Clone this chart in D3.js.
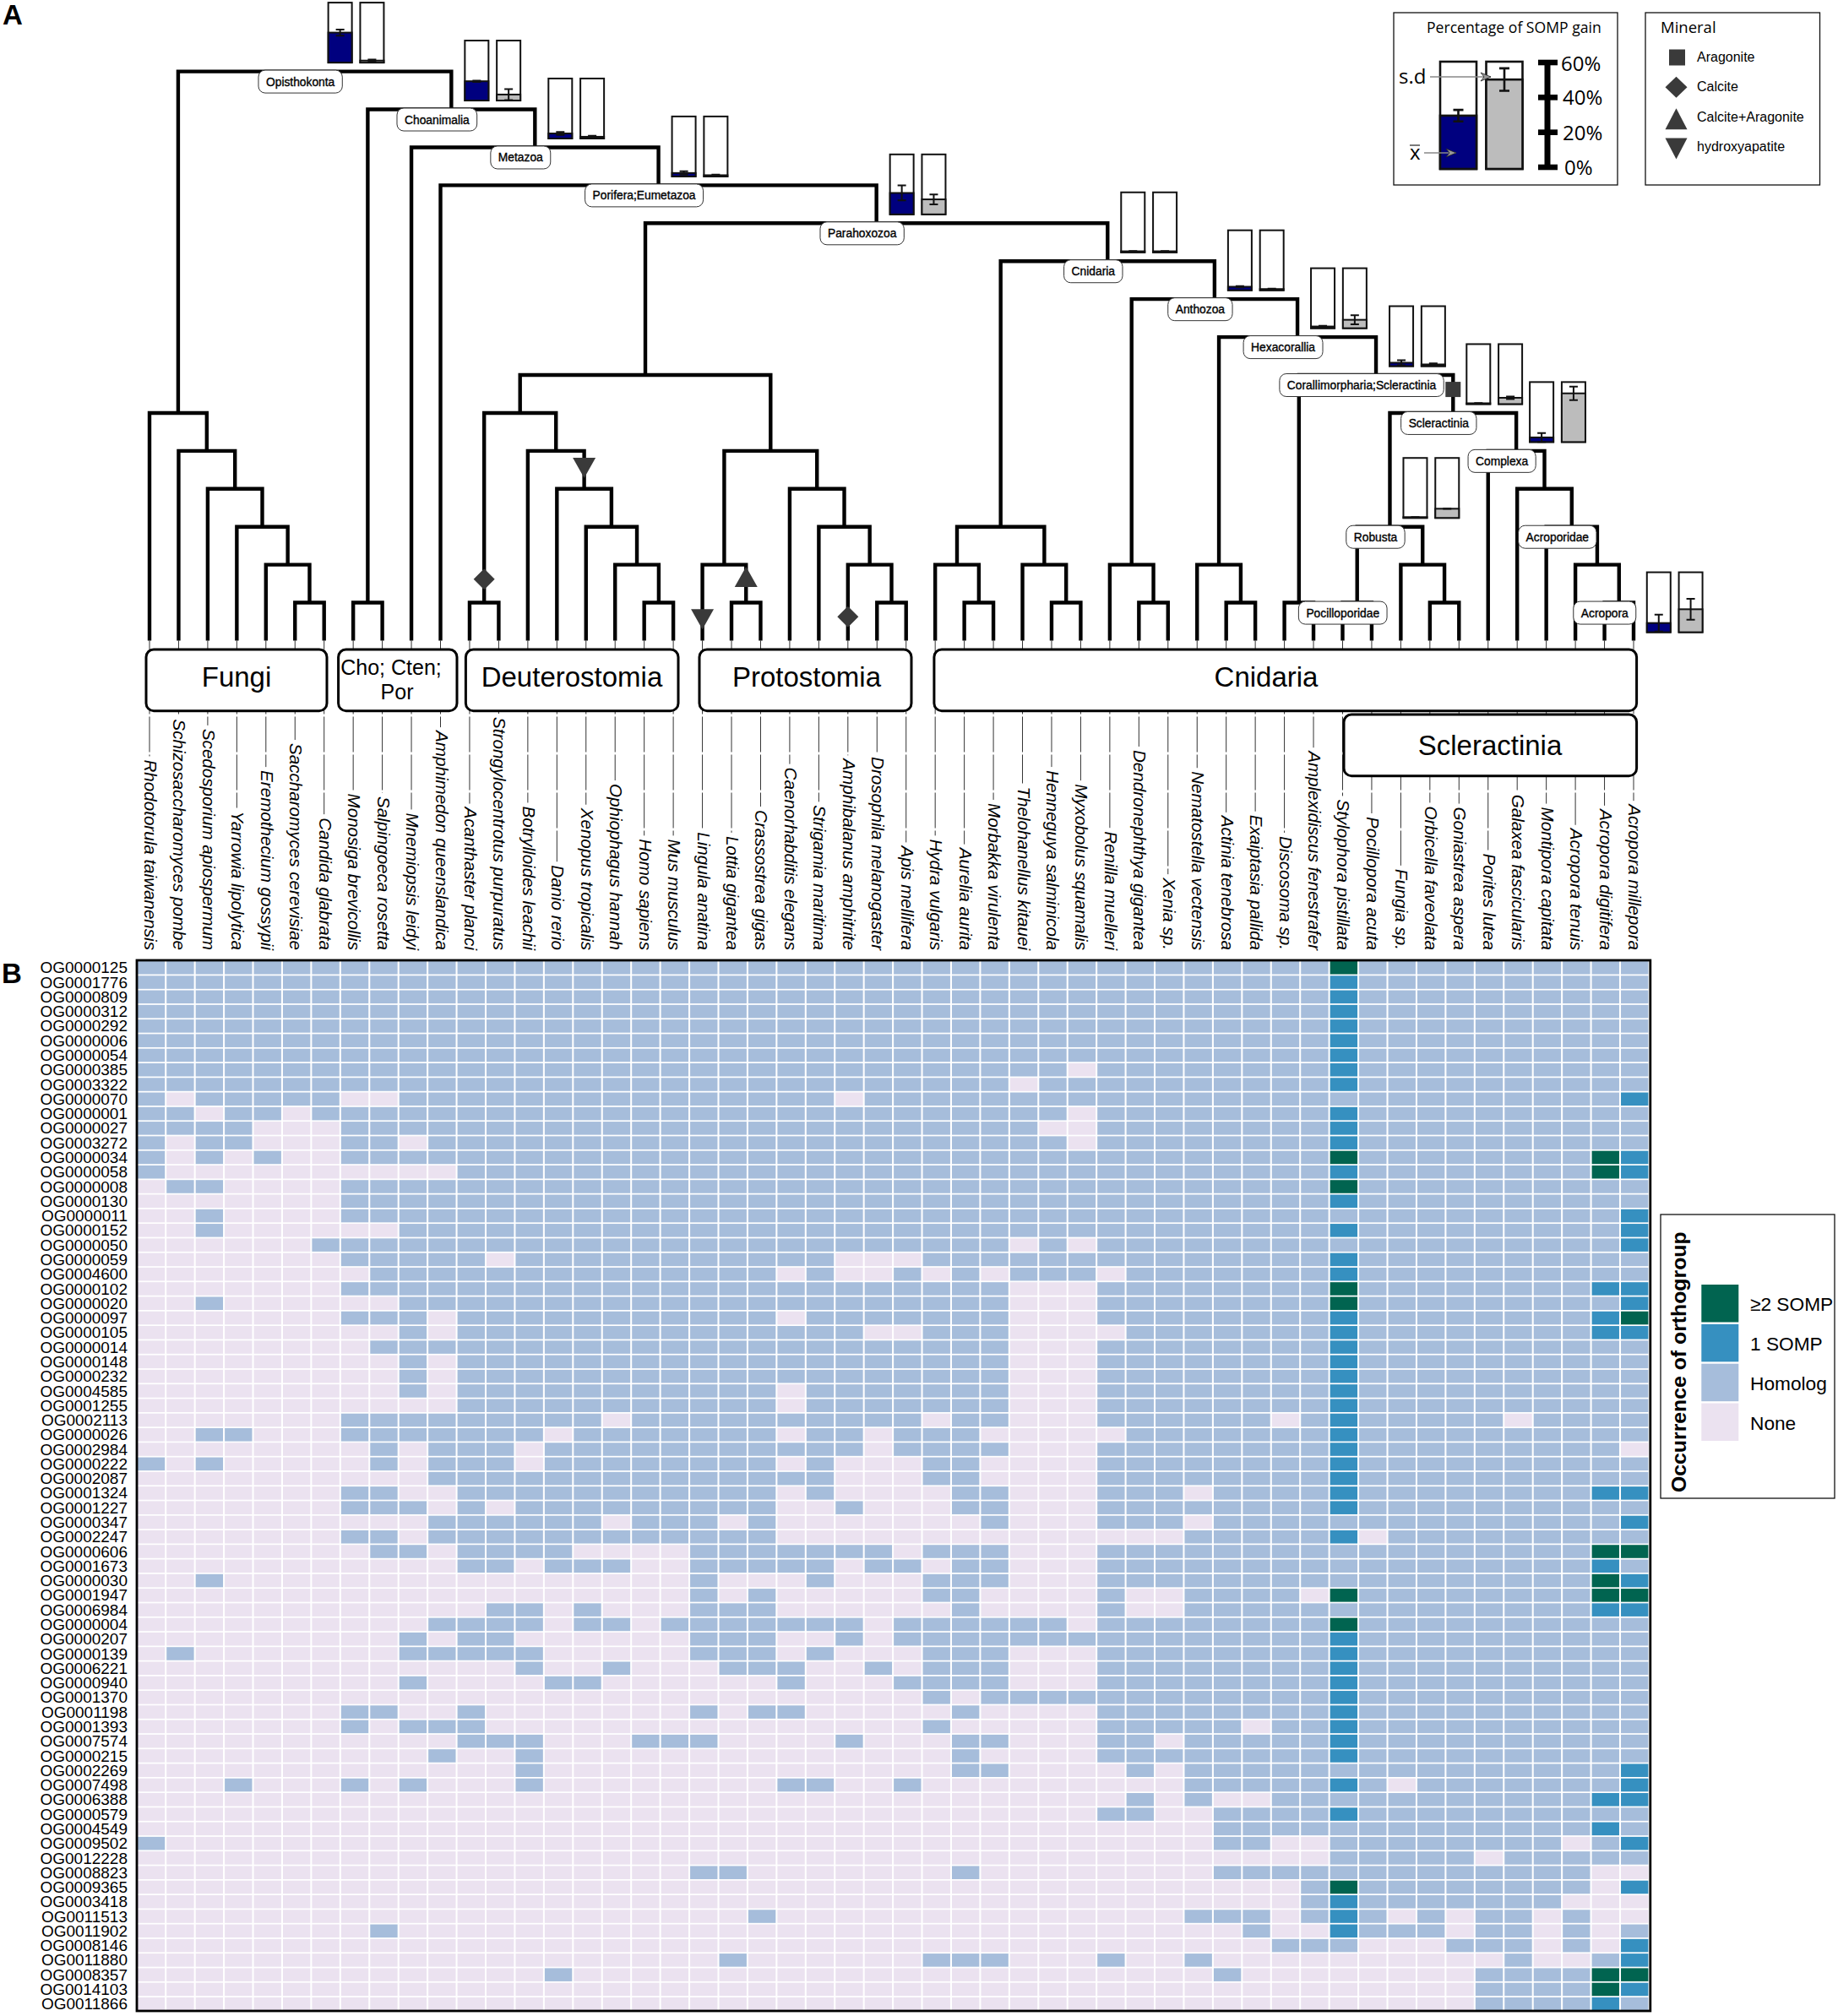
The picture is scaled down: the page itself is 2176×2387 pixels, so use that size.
<!DOCTYPE html>
<html>
<head>
<meta charset="utf-8">
<script src="https://cdn.jsdelivr.net/npm/d3@7"></script>
<style>
    body { margin: 0; background: #fff; }
    text { font-family: "Liberation Sans", Arial, sans-serif; fill: #000; }
    .soft { font-family: "Open Sans", sans-serif; }
</style>
</head>
<body>
<svg id="chart" width="2176" height="2387"></svg>
<script>
const species = [
    "Rhodotorula taiwanensis", "Schizosaccharomyces pombe", "Scedosporium apiospermum", "Yarrowia lipolytica",
    "Eremothecium gossypii", "Saccharomyces cerevisiae", "Candida glabrata", "Monosiga brevicollis",
    "Salpingoeca rosetta", "Mnemiopsis leidyi", "Amphimedon queenslandica", "Acanthaster planci",
    "Strongylocentrotus purpuratus", "Botrylloides leachii", "Danio rerio", "Xenopus tropicalis",
    "Ophiophagus hannah", "Homo sapiens", "Mus musculus", "Lingula anatina", "Lottia gigantea",
    "Crassostrea gigas", "Caenorhabditis elegans", "Strigamia maritima", "Amphibalanus amphitrite",
    "Drosophila melanogaster", "Apis mellifera", "Hydra vulgaris", "Aurelia aurita", "Morbakka virulenta",
    "Thelohanellus kitauei", "Henneguya salminicola", "Myxobolus squamalis", "Renilla muelleri",
    "Dendronephthya gigantea", "Xenia sp.", "Nematostella vectensis", "Actinia tenebrosa", "Exaiptasia pallida",
    "Discosoma sp.", "Amplexidiscus fenestrafer", "Stylophora pistillata", "Pocillopora acuta", "Fungia sp.",
    "Orbicella faveolata", "Goniastrea aspera", "Porites lutea", "Galaxea fascicularis", "Montipora capitata",
    "Acropora tenuis", "Acropora digitifera", "Acropora millepora"
];

const orthogroups = [
    "OG0000125", "OG0001776", "OG0000809", "OG0000312", "OG0000292", "OG0000006", "OG0000054", "OG0000385",
    "OG0003322", "OG0000070", "OG0000001", "OG0000027", "OG0003272", "OG0000034", "OG0000058", "OG0000008",
    "OG0000130", "OG0000011", "OG0000152", "OG0000050", "OG0000059", "OG0004600", "OG0000102", "OG0000020",
    "OG0000097", "OG0000105", "OG0000014", "OG0000148", "OG0000232", "OG0004585", "OG0001255", "OG0002113",
    "OG0000026", "OG0002984", "OG0000222", "OG0002087", "OG0001324", "OG0001227", "OG0000347", "OG0002247",
    "OG0000606", "OG0001673", "OG0000030", "OG0001947", "OG0006984", "OG0000004", "OG0000207", "OG0000139",
    "OG0006221", "OG0000940", "OG0001370", "OG0001198", "OG0001393", "OG0007574", "OG0000215", "OG0002269",
    "OG0007498", "OG0006388", "OG0000579", "OG0004549", "OG0009502", "OG0012228", "OG0008823", "OG0009365",
    "OG0003418", "OG0011513", "OG0011902", "OG0008146", "OG0011880", "OG0008357", "OG0014103", "OG0011866"
];

// 0 none, 1 homolog, 2 one SOMP, 3 two or more SOMP
// columns 1-27 (fungi to protostomes), spaces only for reading
const cellsBasal = [
    "1111111 1111 11111 111111 11111", "1111111 1111 11111 111111 11111", "1111111 1111 11111 111111 11111",
    "1111111 1111 11111 111111 11111", "1111111 1111 11111 111111 11111", "1111111 1111 11111 111111 11111",
    "1111111 1111 11111 111111 11111", "1111111 1111 11111 111111 11111", "1111111 1111 11111 111111 11111",
    "1011111 0011 11111 111111 11011", "1101101 1111 11111 111111 11111", "1111000 1111 11111 111111 11111",
    "1011000 1101 11111 111111 11111", "1010100 1111 11111 111111 11111", "1000000 0000 11111 111111 11111",
    "0110000 1111 11111 111111 11111", "0000000 1111 11111 111111 11111", "0010000 1111 11111 111111 11111",
    "0010000 0011 11111 111111 11111", "0000001 1111 11111 111111 11111", "0000000 1111 10111 111111 11000",
    "0000000 0111 11111 111111 01001", "0000000 1111 11111 111111 11111", "0010000 0011 11111 111111 11111",
    "0000000 1110 11111 111111 01111", "0000000 0010 11111 111111 11100", "0000000 0111 11111 111111 11111",
    "0000000 0010 11111 111111 11111", "0000000 0010 11111 111111 11111", "0000000 0010 11111 111111 01111",
    "0000000 0000 11111 111111 01111", "0000000 1111 11111 011111 11111", "0011000 1111 11101 111111 01101",
    "0000000 0101 11011 111111 11101", "1010000 0101 11011 111111 01000", "0000000 0001 11111 111111 11000",
    "0000000 1100 11111 111111 01000", "0000000 1110 10111 111111 00100", "0000000 0001 11111 011101 00000",
    "0000000 1101 11111 111111 00000", "0000000 0110 11110 000111 11110", "0000000 0000 11011 100111 11011",
    "0010000 0000 00000 000100 01000", "0000000 0000 00000 000101 00000", "0000000 0000 01101 000111 00000",
    "0000000 0001 11101 101111 11101", "0000000 0010 11000 000111 00101", "0100000 0011 11100 000111 01000",
    "0000000 0000 00100 100011 10010", "0000000 0010 00011 000000 10001", "0000000 0000 00000 000000 00000",
    "0000000 1100 10000 000101 10000", "0000000 1011 10000 000000 00000", "0000000 0000 11100 011100 00100",
    "0000000 0001 00100 000000 00000", "0000000 0000 00100 000000 00000", "0001000 1010 00100 000000 11001",
    "0000000 0000 00000 000000 00000", "0000000 0000 00000 000000 00000", "0000000 0000 00000 000000 00000",
    "1000000 0000 00000 000000 00000", "0000000 0000 00000 000000 00000", "0000000 0000 00000 000110 00000",
    "0000000 0000 00000 000000 00000", "0000000 0000 00000 000000 00000", "0000000 0000 00000 000001 00000",
    "0000000 0100 00000 000000 00000", "0000000 0000 00000 000000 00000", "0000000 0000 00000 000010 00000",
    "0000000 0000 00010 000000 00000", "0000000 0000 00000 000000 00000", "0000000 0000 00000 000000 00000"
];

// columns 28-52 (cnidarians), Stylophora is the lone middle digit
const cellsCnidaria = [
    "111111 11111111 3 11111111 11", "111111 11111111 2 11111111 11", "111111 11111111 2 11111111 11",
    "111111 11111111 2 11111111 11", "111111 11111111 2 11111111 11", "111111 11111111 2 11111111 11",
    "111111 11111111 2 11111111 11", "111110 11111111 2 11111111 11", "111011 11111111 2 11111111 11",
    "111111 11111111 1 11111111 12", "111110 11111111 2 11111111 11", "111100 11111111 2 11111111 11",
    "111110 11111111 2 11111111 11", "111111 11111111 3 11111111 32", "111111 11111111 2 11111111 32",
    "111111 11111111 3 11111111 11", "111111 11111111 2 11111111 11", "111111 11111111 1 11111111 12",
    "111111 11111111 2 11111111 12", "111010 11111111 1 11111111 12", "111111 11111111 2 11111111 11",
    "010111 01111111 2 11111111 11", "111000 11111111 3 11111111 22", "111000 11111111 3 11111111 12",
    "111000 11111111 2 11111111 23", "111000 01111111 2 11111111 22", "111000 11111111 2 11111111 11",
    "111000 11111111 2 11111111 11", "111000 11111111 2 11111111 11", "111000 11111111 2 11111111 11",
    "111000 11111111 2 11111111 11", "011000 11111101 2 11111011 11", "110000 01111111 2 11111111 11",
    "111000 11111111 2 11111111 10", "110000 11111111 2 11111111 11", "110000 11111111 2 11111111 11",
    "011000 11101111 2 11111111 22", "011000 11111111 2 11111111 11", "001000 11101111 1 11111111 12",
    "000000 00011111 2 01111111 11", "111000 11111111 1 11111111 33", "011000 11111111 1 11111111 21",
    "111000 11111111 1 11111111 32", "110000 10011110 3 11111111 33", "010000 10011111 1 11111111 22",
    "111110 11111111 3 11111111 11", "111111 11111111 2 11111111 11", "111000 11111111 2 11111111 11",
    "111000 11111111 2 11111111 11", "111000 11111111 2 11111111 11", "101111 11111111 2 11111111 11",
    "010000 11111111 2 11111111 11", "100000 11111011 2 11111111 11", "011000 11011111 2 11111111 11",
    "010000 11111111 2 11111111 11", "011000 01011111 1 11111111 12", "000000 00011111 2 10111111 12",
    "000000 01010011 1 11111111 22", "000000 11001111 2 11111111 11", "000000 00001111 1 11111111 21",
    "000000 00001100 1 11111110 12", "000000 00000000 1 11110111 11", "010000 00001111 1 11111111 00",
    "000000 00000001 3 11111111 02", "000000 00000001 2 11111110 00", "000000 00011101 2 10101101 00",
    "000000 00000100 2 11101101 01", "000000 00000011 1 00011101 02", "111000 10010000 0 00000100 12",
    "000000 00001000 0 00001111 33", "000000 00000000 0 00001111 32", "000000 00000000 0 00001111 21"
];

const occurrenceNames = ["None", "Homolog", "1 SOMP", "\u22652 SOMP"];
const occurrenceColors = ["#ebe2f0", "#a6bddb", "#3690c0", "#016450"];

// SOMP gain per clade, percent
const gainClades = ["Opisthokonta", "Choanimalia", "Metazoa", "Porifera;Eumetazoa", "Parahoxozoa", "Cnidaria", "Anthozoa",
    "Hexacorallia", "Corallimorpharia;Scleractinia", "Scleractinia", "Complexa", "Robusta", "Acropora"];
const blueMean = [30, 19.3, 5, 3.4, 21.4, 1, 3.5, 1.7, 3.4, 0.8, 4.6, 0.8, 9.2];
const blueSd = [3, 0.6, 1.5, 1.7, 7.5, 0.3, 0.7, 0.8, 2.5, 0.2, 4.4, 0.1, 8.4];
const grayMean = [2, 6, 1.7, 1.2, 15, 1, 1.2, 8.4, 1.7, 6.3, 48.7, 9.2, 23];
const graySd = [1, 5.5, 1, 0.5, 5, 0.3, 0.5, 4.5, 1, 1.3, 6.7, 0.1, 10.5];

// the key's example bars, mean then sd
const keyBlue = [29.8, 3.2];
const keyGray = [50, 6.3];

// mineral gains on branches: clade, mineral, tree level
const mineralClades = ["Ambulacraria", "Olfactores", "Lingula anatina", "Lottia+Crassostrea", "Amphibalanus amphitrite", "Scleractinia"];
const mineralKinds = ["Calcite", "hydroxyapatite", "hydroxyapatite", "Calcite+Aragonite", "Calcite", "Aragonite"];
const mineralLevels = [13.38, 10.45, 14.44, 13.32, 14.37, 8.38];

const mineralLegend = ["Aragonite", "Calcite", "Calcite+Aragonite", "hydroxyapatite"];
const scaleTicks = [0, 20, 40, 60];

const leafLevel = 15;
const clade = (level, name, ...children) => ({ level, name, children });
const leaf = name => ({ level: leafLevel, name });
const pairLeaf = (name, a, b) => clade(14, name, leaf(a), leaf(b));

// cladogram, level is the rank of the node from the root
const treeShape = clade(0, "Opisthokonta",
    clade(9, "Fungi", leaf(species[0]),
        clade(10, "f2", leaf(species[1]),
            clade(11, "f3", leaf(species[2]),
                clade(12, "f4", leaf(species[3]),
                    clade(13, "f5", leaf(species[4]), pairLeaf("f6", species[5], species[6])))))),
    clade(1, "Choanimalia",
        pairLeaf("Choanoflagellata", species[7], species[8]),
        clade(2, "Metazoa", leaf(species[9]),
            clade(3, "Porifera;Eumetazoa", leaf(species[10]),
                clade(4, "Parahoxozoa",
                    clade(8, "Bilateria",
                        clade(9, "Deuterostomia",
                            pairLeaf("Ambulacraria", species[11], species[12]),
                            clade(10, "Chordata", leaf(species[13]),
                                clade(11, "Olfactores", leaf(species[14]),
                                    clade(12, "d3", leaf(species[15]),
                                        clade(13, "d4", leaf(species[16]), pairLeaf("Mammalia", species[17], species[18])))))),
                        clade(10, "Protostomia",
                            clade(13, "Lophotrochozoa", leaf(species[19]), pairLeaf("Lottia+Crassostrea", species[20], species[21])),
                            clade(11, "Ecdysozoa", leaf(species[22]),
                                clade(12, "p3", leaf(species[23]),
                                    clade(13, "p4", leaf(species[24]), pairLeaf("Insecta", species[25], species[26])))))),
                    clade(5, "Cnidaria",
                        clade(12, "Medusozoa",
                            clade(13, "m1", leaf(species[27]), pairLeaf("m2", species[28], species[29])),
                            clade(13, "Myxozoa", leaf(species[30]), pairLeaf("m3", species[31], species[32]))),
                        clade(6, "Anthozoa",
                            clade(13, "Octocorallia", leaf(species[33]), pairLeaf("o1", species[34], species[35])),
                            clade(7, "Hexacorallia",
                                clade(13, "Actiniaria", leaf(species[36]), pairLeaf("a1", species[37], species[38])),
                                clade(8, "Corallimorpharia;Scleractinia",
                                    pairLeaf("Corallimorpharia", species[39], species[40]),
                                    clade(9, "Scleractinia",
                                        clade(12, "Robusta",
                                            pairLeaf("Pocilloporidae", species[41], species[42]),
                                            clade(13, "r1", leaf(species[43]), pairLeaf("r2", species[44], species[45]))),
                                        clade(10, "Complexa", leaf(species[46]),
                                            clade(11, "c1", leaf(species[47]),
                                                clade(12, "Acroporidae", leaf(species[48]),
                                                    clade(13, "c2", leaf(species[49]), pairLeaf("Acropora", species[50], species[51])))))))))))))));

const labeledClades = ["Opisthokonta", "Choanimalia", "Metazoa", "Porifera;Eumetazoa", "Parahoxozoa", "Cnidaria", "Anthozoa",
    "Hexacorallia", "Corallimorpharia;Scleractinia", "Scleractinia", "Complexa", "Robusta", "Acroporidae", "Pocilloporidae", "Acropora"];

const svg = d3.select("#chart");

// scales
const xLeaf = d3.scalePoint().domain(species).range([177, 1934]);
const yLevel = d3.scaleLinear().domain([0, leafLevel]).range([84.6, 758.5]);
const xCell = d3.scaleBand().domain(species).range([162.8, 1951.4]).paddingInner(0.06);
const yCell = d3.scaleBand().domain(orthogroups).range([1138, 2380.5]).paddingInner(0.1);
const barLength = d3.scaleLinear().domain([0, 60]).range([0, 71]);
const colorOf = d3.scaleOrdinal().domain([0, 1, 2, 3]).range(occurrenceColors);

// tree
const root = d3.hierarchy(treeShape);
root.eachAfter(d => {
    d.px = d.children ? d3.mean(d.children, c => c.px) : xLeaf(d.data.name);
    d.py = yLevel(d.data.level);
});
const nodeByName = new Map(root.descendants().map(d => [d.data.name, d]));

// thin dashed guides from tips down to the species names
const namesBottom = 1125;
const guides = svg.append("g");
const tipNames = svg.append("g")
    .selectAll("text")
    .data(species)
    .join("text")
    .attr("transform", d => `translate(${xLeaf(d) - 6},${namesBottom}) rotate(90)`)
    .attr("text-anchor", "end")
    .attr("font-size", 20.6)
    .attr("font-style", "italic")
    .text(d => d);

tipNames.each(function (d) {
    guides.append("line")
        .attr("x1", xLeaf(d)).attr("x2", xLeaf(d))
        .attr("y1", yLevel(leafLevel))
        .attr("y2", namesBottom - this.getComputedTextLength() - 4)
        .attr("stroke", "#333").attr("stroke-width", 1)
        .attr("stroke-dasharray", "42 3");
});

svg.append("g")
    .selectAll("path")
    .data(root.descendants().filter(d => d.children))
    .join("path")
    .attr("d", d => {
        const [a, b] = d.children;
        return `M${a.px},${a.py}V${d.py}H${b.px}V${b.py}`;
    })
    .attr("fill", "none")
    .attr("stroke", "#000")
    .attr("stroke-width", 4.4);

// mineral marks
function mineralPath(kind, w, h) {
    const a = w / 2, b = h / 2;
    if (kind === "Aragonite") return `M${-a},${-b}H${a}V${b}H${-a}Z`;
    if (kind === "Calcite") return `M0,${-b}L${a},0L0,${b}L${-a},0Z`;
    if (kind === "Calcite+Aragonite") return `M0,${-b}L${a},${b}H${-a}Z`;
    return `M${-a},${-b}H${a}L0,${b}Z`;
}
const mineralSize = { "Aragonite": [18, 18], "Calcite": [25, 25], "Calcite+Aragonite": [27, 24], "hydroxyapatite": [27, 24] };

svg.append("g")
    .selectAll("path")
    .data(mineralClades)
    .join("path")
    .attr("transform", (d, i) => `translate(${nodeByName.get(d).px},${yLevel(mineralLevels[i])})`)
    .attr("d", (d, i) => mineralPath(mineralKinds[i], ...mineralSize[mineralKinds[i]]))
    .attr("fill", "#3a3a3a");

// group boxes
const groupBoxes = [
    { x0: 173, x1: 387, y0: 769, y1: 841.7, tx: 280, lines: ["Fungi"], size: 33 },
    { x0: 400.6, x1: 541, y0: 769, y1: 841.7, tx: 466, lines: ["Cho; Cten;", "Por"], size: 25 },
    { x0: 551.4, x1: 803, y0: 769, y1: 841.7, tx: 677, lines: ["Deuterostomia"], size: 33 },
    { x0: 828, x1: 1079, y0: 769, y1: 841.7, tx: 955, lines: ["Protostomia"], size: 33 },
    { x0: 1105.9, x1: 1937.6, y0: 769, y1: 841.7, tx: 1499, lines: ["Cnidaria"], size: 33 },
    { x0: 1591, x1: 1937.6, y0: 846, y1: 918.7, tx: 1764, lines: ["Scleractinia"], size: 33 }
];
const boxes = svg.append("g").selectAll("g").data(groupBoxes).join("g");
boxes.append("rect")
    .attr("x", d => d.x0).attr("y", d => d.y0)
    .attr("width", d => d.x1 - d.x0).attr("height", d => d.y1 - d.y0)
    .attr("rx", 9)
    .attr("fill", "#fff").attr("stroke", "#000").attr("stroke-width", 3);
boxes.each(function (d) {
    const mid = (d.y0 + d.y1) / 2;
    d3.select(this).selectAll("text")
        .data(d.lines)
        .join("text")
        .attr("x", (t, i) => d.tx + (i ? 4 : -3 * (d.lines.length - 1)))
        .attr("y", (t, i) => d.lines.length > 1 ? mid + (i ? 23 : -6) : mid + (d.y0 > 800 ? 12 : 8))
        .attr("text-anchor", "middle")
        .attr("font-size", d.size)
        .text(t => t);
});

// SOMP gain bars beside their nodes
function gainBar(g, x, bottom, width, length, color, mean, sd, capHalf, lineW) {
    g.append("rect").attr("x", x).attr("y", bottom - length(60)).attr("width", width).attr("height", length(60))
        .attr("fill", "#fff").attr("stroke", "#111").attr("stroke-width", lineW);
    g.append("rect").attr("x", x).attr("y", bottom - length(mean)).attr("width", width).attr("height", length(mean))
        .attr("fill", color).attr("stroke", "#111").attr("stroke-width", lineW);
    const mid = x + width / 2;
    const top = bottom - length(mean + sd);
    const low = bottom - length(Math.max(mean - sd, 0));
    g.append("path").attr("d", `M${mid - capHalf},${top}H${mid + capHalf}M${mid},${top}V${low}M${mid - capHalf},${low}H${mid + capHalf}`)
        .attr("fill", "none").attr("stroke", "#111").attr("stroke-width", lineW);
}

const pairShift = { "Acropora": [33, 35] };
const barLayer = svg.append("g");
gainClades.forEach((name, i) => {
    const node = nodeByName.get(name);
    const shift = pairShift[name] || [16, -10.5];
    const x = node.px + shift[0];
    const bottom = node.py + shift[1];
    gainBar(barLayer, x, bottom, 28, barLength, "#00007f", blueMean[i], blueSd[i], 5, 2);
    gainBar(barLayer, x + 37.8, bottom, 28, barLength, "#bcbcbc", grayMean[i], graySd[i], 5, 2);
});

// clade name tags
const tags = svg.append("g").selectAll("g").data(labeledClades).join("g")
    .attr("transform", d => `translate(${nodeByName.get(d).px - 17},${nodeByName.get(d).py + 12})`);
const tagText = tags.append("text")
    .attr("text-anchor", "middle")
    .attr("y", 5)
    .attr("font-size", 13.8)
    .attr("stroke", "#000").attr("stroke-width", 0.35)
    .text(d => d);
tagText.each(function () {
    const w = this.getComputedTextLength() + 18;
    d3.select(this.parentNode).insert("rect", "text")
        .attr("x", -w / 2).attr("y", -13.5).attr("width", w).attr("height", 27)
        .attr("rx", 8)
        .attr("fill", "#fff").attr("stroke", "#333").attr("stroke-width", 1);
});

// legend, SOMP gain
svg.append("rect").attr("x", 1650).attr("y", 15).attr("width", 265).attr("height", 204)
    .attr("fill", "#fff").attr("stroke", "#111").attr("stroke-width", 1.3);
svg.append("text").attr("class", "soft").attr("x", 1689).attr("y", 39).attr("font-size", 17.6)
    .text("Percentage of SOMP gain");

const legendBars = svg.append("g");
const legendLength = d3.scaleLinear().domain([0, 60]).range([0, 127]);
gainBar(legendBars, 1705, 200, 43, legendLength, "#00007f", keyBlue[0], keyBlue[1], 6, 2.6);
gainBar(legendBars, 1759.5, 200, 43, legendLength, "#bcbcbc", keyGray[0], keyGray[1], 6, 2.6);

const yScaleBar = d3.scaleLinear().domain([0, 60]).range([198, 74]);
svg.append("line").attr("x1", 1832).attr("x2", 1832).attr("y1", yScaleBar(0)).attr("y2", yScaleBar(60))
    .attr("stroke", "#000").attr("stroke-width", 7);
svg.append("g").selectAll("rect").data(scaleTicks).join("rect")
    .attr("x", 1821).attr("width", 23).attr("y", d => yScaleBar(d) - 3.3).attr("height", 6.6);
svg.append("g").selectAll("text").data(scaleTicks).join("text")
    .attr("class", "soft")
    .attr("x", d => d === 0 ? 1852 : d === 60 ? 1848 : 1850)
    .attr("y", d => yScaleBar(d) + (d === 60 ? 10 : 9))
    .attr("font-size", 24)
    .text(d => d + "%");

svg.append("text").attr("class", "soft").attr("x", 1656).attr("y", 99).attr("font-size", 24).text("s.d");
svg.append("text").attr("class", "soft").attr("x", 1669).attr("y", 189).attr("font-size", 24).text("x");
svg.append("line").attr("x1", 1669).attr("x2", 1681).attr("y1", 172).attr("y2", 172).attr("stroke", "#222").attr("stroke-width", 1.2);
function pointer(x0, x1, y) {
    svg.append("line").attr("x1", x0).attr("x2", x1).attr("y1", y).attr("y2", y).attr("stroke", "#888").attr("stroke-width", 1.4);
    svg.append("path").attr("d", `M${x1 - 12},${y - 5}L${x1},${y}L${x1 - 12},${y + 5}L${x1 - 8},${y}Z`)
        .attr("fill", "#999").attr("stroke", "#222").attr("stroke-width", 0.8);
}
pointer(1693, 1765, 91);
pointer(1686, 1724, 181);

// legend, mineral
svg.append("rect").attr("x", 1948).attr("y", 15).attr("width", 206.5).attr("height", 204)
    .attr("fill", "#fff").attr("stroke", "#111").attr("stroke-width", 1.3);
svg.append("text").attr("class", "soft").attr("x", 1966).attr("y", 39).attr("font-size", 18.5).text("Mineral");
const mineralRow = d3.scalePoint().domain(mineralLegend).range([67, 173]);
const mineralItems = svg.append("g").selectAll("g").data(mineralLegend).join("g");
mineralItems.append("path")
    .attr("transform", (d, i) => `translate(${d === "Aragonite" ? 1985.5 : 1984.5},${mineralRow(d) + (i > 1 ? 3 : 1)})`)
    .attr("d", d => mineralPath(d, ...(d === "Aragonite" ? [19, 19] : [26, 25])))
    .attr("fill", "#3a3a3a");
mineralItems.append("text")
    .attr("x", 2009).attr("y", d => mineralRow(d) + 6)
    .attr("font-size", 16)
    .text(d => d);

// heat map
const cellRows = orthogroups.map((og, i) => ({
    og,
    codes: (cellsBasal[i] + cellsCnidaria[i]).replace(/ /g, "").split("").map(Number)
}));

svg.append("g")
    .selectAll("g")
    .data(cellRows)
    .join("g")
    .attr("transform", d => `translate(0,${yCell(d.og)})`)
    .selectAll("rect")
    .data(d => d.codes)
    .join("rect")
    .attr("x", (d, i) => xCell(species[i]))
    .attr("width", xCell.bandwidth())
    .attr("height", yCell.bandwidth())
    .attr("fill", d => colorOf(d));

svg.append("rect").attr("x", 162).attr("y", 1137).attr("width", 1791.8).attr("height", 1244)
    .attr("fill", "none").attr("stroke", "#000").attr("stroke-width", 2.8);

const rowAxis = svg.append("g")
    .attr("transform", "translate(151,0.5)")
    .call(d3.axisLeft(yCell).tickSize(0).tickPadding(0));
rowAxis.select(".domain").remove();
rowAxis.selectAll("text").attr("font-size", 19).attr("font-family", "Liberation Sans").attr("fill", "#000");

// legend, occurrence
svg.append("rect").attr("x", 1966).attr("y", 1438).attr("width", 206).attr("height", 336)
    .attr("fill", "#fff").attr("stroke", "#111").attr("stroke-width", 1.3);
svg.append("text")
    .attr("transform", "translate(1996,1767) rotate(-90)")
    .attr("font-size", 24.8).attr("font-weight", "bold")
    .text("Occurrence of orthogroup");
const legendOrder = [3, 2, 1, 0];
const yLegend = d3.scaleBand().domain(legendOrder).range([1521, 1706]).paddingInner(0.05);
svg.append("g").selectAll("rect").data(legendOrder).join("rect")
    .attr("x", 2014.3).attr("width", 44)
    .attr("y", d => yLegend(d)).attr("height", yLegend.bandwidth())
    .attr("fill", d => colorOf(d));
svg.append("g").selectAll("text").data(legendOrder).join("text")
    .attr("x", 2072).attr("y", d => yLegend(d) + 31)
    .attr("font-size", 22.7)
    .text(d => occurrenceNames[d]);

// panel letters
svg.append("text").attr("x", 3).attr("y", 29).attr("font-size", 33).attr("font-weight", "bold").text("A");
svg.append("text").attr("x", 2).attr("y", 1164).attr("font-size", 33).attr("font-weight", "bold").text("B");
</script>
</body>
</html>
